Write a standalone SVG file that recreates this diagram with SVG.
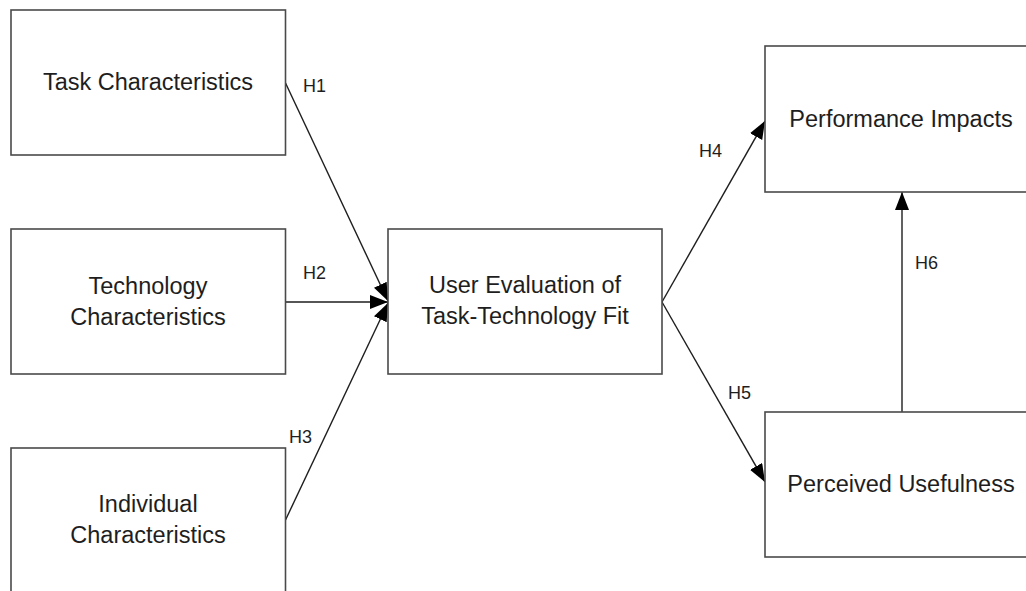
<svg xmlns="http://www.w3.org/2000/svg" width="1026" height="591" viewBox="0 0 1026 591">
<style>
.box{fill:#fff;stroke:#4a4a4a;stroke-width:1.6}
.t{font-family:"Liberation Sans",Arial,sans-serif;font-size:23.5px;fill:#1e1e1e;text-anchor:middle}
.lbl{font-family:"Liberation Sans",Arial,sans-serif;font-size:18px;fill:#1e1e1e}
.c{stroke:#1e1e1e;stroke-width:1.4;fill:none;marker-end:url(#ah)}
</style>
<defs>
<marker id="ah" markerUnits="userSpaceOnUse" markerWidth="20" markerHeight="16" refX="18" refY="7" orient="auto">
<path d="M0,0 L18,7 L0,14 z" fill="#000"/>
</marker>
</defs>
<rect width="1026" height="591" fill="#fff"/>
<g id="connectors">
<line class="c" x1="285.5" y1="83" x2="388" y2="301"/>
<line class="c" x1="285.5" y1="302" x2="388" y2="302"/>
<line class="c" x1="285.5" y1="520" x2="388" y2="303"/>
<line class="c" x1="662" y1="302" x2="765" y2="121"/>
<line class="c" x1="662" y1="302" x2="765" y2="482"/>
<line class="c" x1="902" y1="412" x2="902" y2="192"/>
<text class="lbl" x="303" y="92">H1</text>
<text class="lbl" x="303" y="279">H2</text>
<text class="lbl" x="289" y="443">H3</text>
<text class="lbl" x="699" y="157">H4</text>
<text class="lbl" x="728" y="399">H5</text>
<text class="lbl" x="915" y="269">H6</text>
</g>
<g id="task">
<rect class="box" x="11" y="10" width="274.5" height="145"/>
<text class="t" x="148" y="90">Task Characteristics</text>
</g>
<g id="technology">
<rect class="box" x="11" y="229" width="274.5" height="145"/>
<text class="t" x="148" y="294">Technology</text>
<text class="t" x="148" y="325">Characteristics</text>
</g>
<g id="individual">
<rect class="box" x="11" y="448" width="274.5" height="160"/>
<text class="t" x="148" y="512">Individual</text>
<text class="t" x="148" y="543">Characteristics</text>
</g>
<g id="ttf">
<rect class="box" x="388" y="229" width="274" height="145"/>
<text class="t" x="525" y="293">User Evaluation of</text>
<text class="t" x="525" y="324">Task-Technology Fit</text>
</g>
<g id="performance">
<rect class="box" x="765" y="46" width="274" height="146"/>
<text class="t" x="901" y="127">Performance Impacts</text>
</g>
<g id="usefulness">
<rect class="box" x="765" y="412" width="274" height="145"/>
<text class="t" x="901" y="492">Perceived Usefulness</text>
</g>
</svg>
